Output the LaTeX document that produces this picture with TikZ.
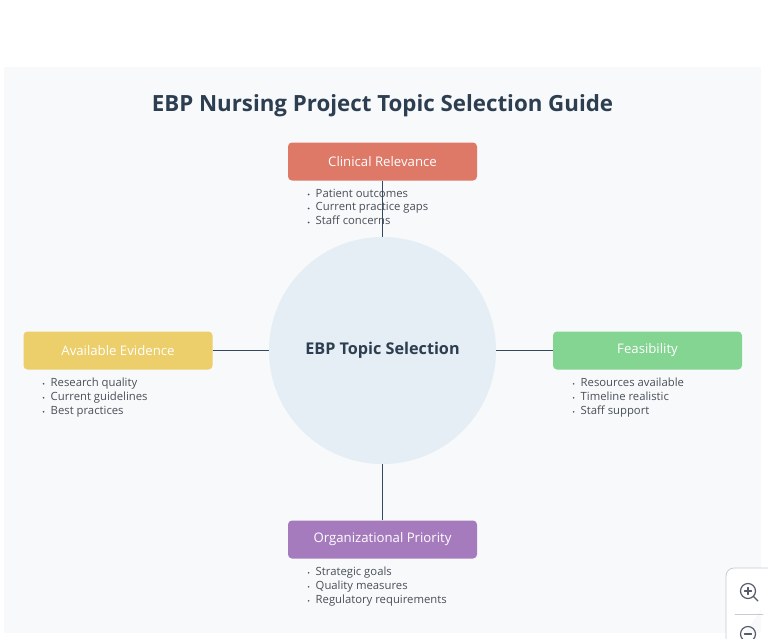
\documentclass[tikz,border=0pt]{standalone}
\usepackage{fontspec}
\setmainfont{Open Sans}
\usepackage{tikz}
\usetikzlibrary{arrows}
\definecolor{panelbg}{HTML}{F7F9FB}
\definecolor{inktitle}{HTML}{2C3E50}
\definecolor{inkitem}{HTML}{4A4F57}
\definecolor{hubfill}{HTML}{E5EDF5}
\definecolor{linkcol}{HTML}{34495E}
\definecolor{clinred}{HTML}{DE7867}
\definecolor{evidyel}{HTML}{ECCE6B}
\definecolor{feasgrn}{HTML}{84D492}
\definecolor{orgpur}{HTML}{A67BBE}
\definecolor{zoomcol}{HTML}{C9CBD3}
\definecolor{zoomico}{HTML}{555B6B}
\tikzset{
  topicbox/.style={rounded corners=4pt,minimum width=189pt,minimum height=38pt,inner sep=0pt,text=white,font=\fontsize{13.2}{16}\selectfont},
  itemlist/.style={anchor=north west,inner sep=0pt,text=inkitem,align=left,font=\fontsize{11.3}{14}\selectfont},
  link/.style={draw=linkcol,line width=1.5pt}
}
\newcommand{\itemdot}{\makebox[8pt][l]{\raisebox{1.6pt}{\tikz\fill[inkitem] (0,0) circle (0.9pt);}}}
\begin{document}
\begin{tikzpicture}[line cap=round,line join=round,x=1pt,y=-1pt]
  \useasboundingbox (0,0) rectangle (768,638);
  \clip (0,0) rectangle (768,638);
  \fill[panelbg] (4,67) rectangle (761,633);
  \node (title) at (382.5,106) [text=inktitle,inner sep=0pt,font=\fontsize{22.3}{26}\selectfont\bfseries] {EBP Nursing Project Topic Selection Guide};
  % hub
  \node (hub) at (382.5,350.5) [circle,fill=hubfill,minimum size=227pt,inner sep=0pt,text=inktitle,font=\fontsize{16.2}{20}\selectfont\bfseries] {EBP Topic Selection};
  % boxes
  \node (clinical) at (382.5,161.5) [topicbox,fill=clinred] {Clinical Relevance};
  \node (evidence) at (118,350.5) [topicbox,fill=evidyel] {Available Evidence};
  \node (feasible) at (647.5,350.5) [topicbox,fill=feasgrn] {Feasibility};
  \node (orgprio) at (382.5,539.5) [topicbox,fill=orgpur] {Organizational Priority};
  % lists
  \node (clinlist) at (307.5,188.5) [itemlist] {\itemdot Patient outcomes\\\itemdot Current practice gaps\\\itemdot Staff concerns};
  \node (evidlist) at (42.5,377.5) [itemlist] {\itemdot Research quality\\\itemdot Current guidelines\\\itemdot Best practices};
  \node (feaslist) at (572.5,377.5) [itemlist] {\itemdot Resources available\\\itemdot Timeline realistic\\\itemdot Staff support};
  \node (orglist) at (307.5,566.5) [itemlist] {\itemdot Strategic goals\\\itemdot Quality measures\\\itemdot Regulatory requirements};
  % links
  \draw[link,line cap=butt] (clinical) -- (hub);
  \draw[link,line cap=butt] (evidence) -- (hub);
  \draw[link,line cap=butt] (feasible) -- (hub);
  \draw[link,line cap=butt] (orgprio) -- (hub);
  % zoom control
  \draw[zoomcol,fill=white,rounded corners=8pt,line width=0.8pt] (790,568) -- (726,568) -- (726,660);
  \draw[zoomcol,line width=0.7pt] (735,614.5) -- (763,614.5);
  \draw[zoomico,line width=1.2pt] (748,591) circle (7.5pt);
  \draw[zoomico,line width=1.2pt] (753.5,596.5) -- (758,601);
  \draw[zoomico,line width=1.2pt] (744.5,591) -- (751.5,591);
  \draw[zoomico,line width=1.2pt] (748,587.5) -- (748,594.5);
  \draw[zoomico,line width=1.2pt] (748,634) circle (7.5pt);
  \draw[zoomico,line width=1.2pt] (744.5,634) -- (751.5,634);
\end{tikzpicture}
\end{document}
